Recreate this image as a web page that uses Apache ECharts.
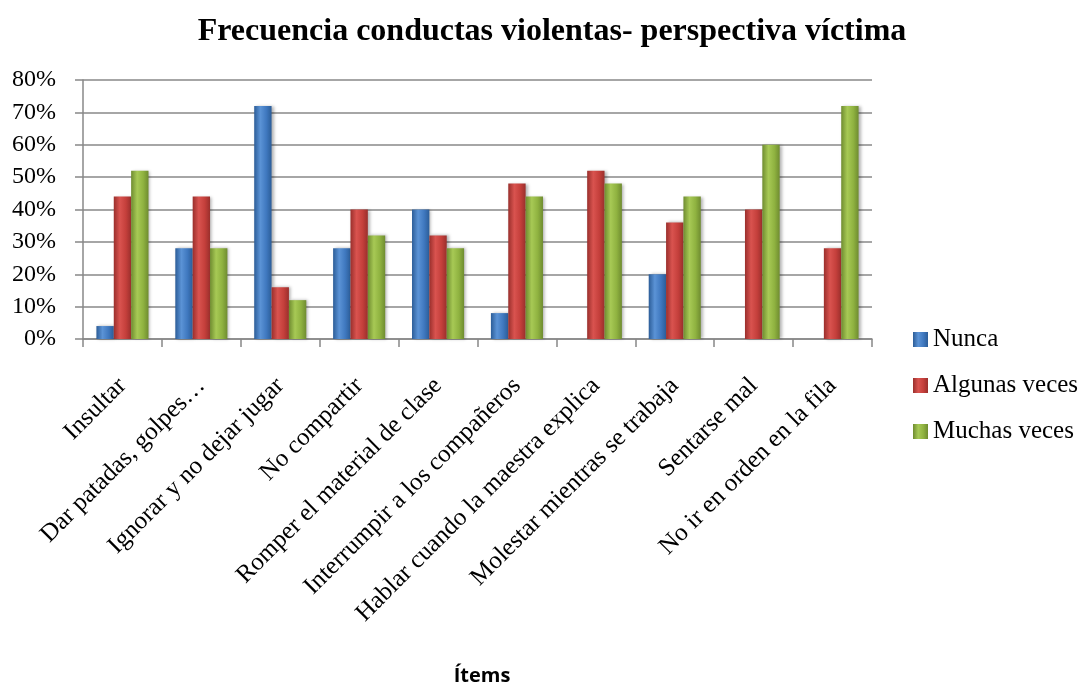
<!DOCTYPE html>
<html>
<head>
<meta charset="utf-8">
<script src="https://cdn.jsdelivr.net/npm/echarts@6/dist/echarts.min.js"></script>
<style>html,body{margin:0;padding:0;background:#fff;}#c{width:1090px;height:684px;}</style>
</head>
<body>
<div id="c"></div>
<script>
var categories = ["Insultar", "Dar patadas, golpes…", "Ignorar y no dejar jugar", "No compartir", "Romper el material de clase", "Interrumpir a los compañeros", "Hablar cuando la maestra explica", "Molestar mientras se trabaja", "Sentarse mal", "No ir en orden en la fila"];
var nunca = [4, 28, 72, 28, 40, 8, 0, 20, 0, 0];
var algunas = [44, 44, 16, 40, 32, 48, 52, 36, 40, 28];
var muchas = [52, 28, 12, 32, 28, 44, 48, 44, 60, 72];
var yTicks = [0, 10, 20, 30, 40, 50, 60, 70, 80];

function grad(dark, mid, light) {
  return new echarts.graphic.LinearGradient(0, 0, 1, 0, [
    {offset: 0, color: dark}, {offset: 0.35, color: light}, {offset: 0.7, color: mid}, {offset: 1, color: dark}
  ]);
}
var serif = '"Liberation Serif", "DejaVu Serif", serif';
var chart = echarts.init(document.getElementById('c'));
chart.setOption({
  animation: false,
  title: [
    {text: 'Frecuencia conductas violentas- perspectiva víctima', left: 547, textAlign: 'center', top: 11,
     textStyle: {fontFamily: serif, fontWeight: 'bold', fontSize: 32, color: '#000'}},
    {text: 'Ítems', left: 477, textAlign: 'center', top: 661,
     textStyle: {fontFamily: '"Open Sans", "Liberation Sans", sans-serif', fontWeight: 'bold', fontSize: 20, color: '#000'}}
  ],
  legend: {
    orient: 'vertical', left: 913, top: 327, itemGap: 21, itemWidth: 15, itemHeight: 15,
    icon: 'rect', padding: 0,
    textStyle: {fontFamily: serif, fontSize: 25, color: '#000'},
    data: ['Nunca', 'Algunas veces', 'Muchas veces']
  },
  grid: {left: 83, right: 218, top: 80, height: 259, containLabel: false},
  xAxis: {
    type: 'category', data: categories,
    axisLine: {lineStyle: {color: '#888', width: 1.5}},
    axisTick: {show: true, length: 8, lineStyle: {color: '#888', width: 1.5}},
    axisLabel: {rotate: 45, interval: 0, margin: 43, fontFamily: serif, fontSize: 25, color: '#000'}
  },
  yAxis: {
    type: 'value', min: 0, max: 80, interval: 10,
    axisLine: {show: true, lineStyle: {color: '#888', width: 1.5}},
    axisTick: {show: true, length: 8, lineStyle: {color: '#888', width: 1.5}},
    splitLine: {lineStyle: {color: '#888', width: 1.5}},
    axisLabel: {formatter: function (v) { return yTicks.indexOf(v) >= 0 ? v + '%' : ''; }, margin: 27,
      fontFamily: serif, fontSize: 24, color: '#000'}
  },
  series: [
    {name: 'Nunca', type: 'bar', data: nunca, barGap: '0%', barCategoryGap: '34%',
     itemStyle: {color: grad('#2c5d98', '#3f78bf', '#5b93d6'), shadowColor: 'rgba(0,0,0,0.3)', shadowBlur: 3, shadowOffsetX: 2}},
    {name: 'Algunas veces', type: 'bar', data: algunas,
     itemStyle: {color: grad('#9a2f2c', '#c43f3b', '#d9534f'), shadowColor: 'rgba(0,0,0,0.3)', shadowBlur: 3, shadowOffsetX: 2}},
    {name: 'Muchas veces', type: 'bar', data: muchas,
     itemStyle: {color: grad('#6f8c30', '#8fb240', '#a7c955'), shadowColor: 'rgba(0,0,0,0.3)', shadowBlur: 3, shadowOffsetX: 2}}
  ]
});
</script>
</body>
</html>
